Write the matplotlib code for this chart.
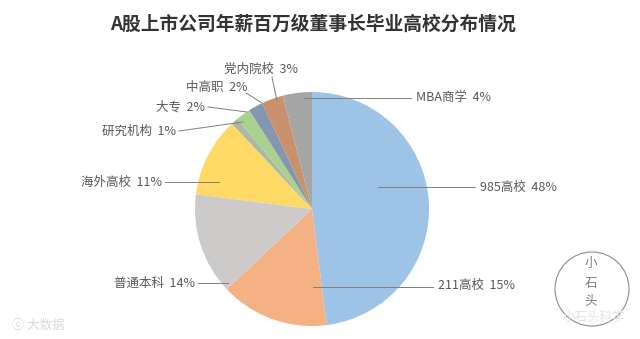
import matplotlib.pyplot as plt
from matplotlib.patches import Circle

plt.rcParams['font.family'] = ['Noto Sans CJK SC', 'DejaVu Sans']

# 学校类别与占比（%），顺时针从12点方向开始
categories = ["985高校", "211高校", "普通本科", "海外高校", "研究机构",
              "大专", "中高职", "党内院校", "MBA商学"]
shares = [48, 15, 14, 11, 1, 2, 2, 3, 4]
colors = ["#9dc3e6", "#f4b183", "#cdcaca", "#ffd966", "#a9b8a8",
          "#a9d18e", "#8497b0", "#c9916c", "#a5a5a5"]

# 标签文字位置与引线端点（像素坐标，y 向下）
label_pos = [(480, 187), (438, 285), (195, 283), (162, 182), (176, 131),
             (205, 107), (248, 88), (298, 69), (416, 98)]
line_end = [(378, 187), (313, 287), (228, 283), (219, 182), (243, 122),
            (247, 112), (262, 103), (277, 101), (304, 98)]
align = ["left", "left", "right", "right", "right", "right", "right", "right", "left"]

W, H = 640, 339
fig = plt.figure(figsize=(W / 100, H / 100), dpi=100)
ax = fig.add_axes([0, 0, 1, 1])

ax.pie(shares, colors=colors, startangle=90, counterclock=False,
       center=(312, H - 209), radius=117, frame=True,
       wedgeprops=dict(linewidth=0))
ax.set_xlim(0, W)
ax.set_ylim(0, H)
ax.set_aspect("equal")
ax.axis("off")

for name, val, (tx, ty), (ex, ey), ha in zip(categories, shares, label_pos, line_end, align):
    ax.text(tx, H - ty, f"{name}  {val}%", ha=ha, va="center",
            fontsize=9, color="#595959")
    sx = tx - 5 if ha == "left" else tx + 3
    if name == "中高职":
        sx, sy = tx - 2, ty + 5
    elif name == "党内院校":
        sx, sy = tx - 26, ty + 8
    elif name in ("研究机构", "大专"):
        sy = ty
    else:
        sy = ey
    ax.plot([sx, ex], [H - sy, H - ey], color="#7f7f7f", linewidth=0.7)

ax.text(W / 2 - 7, H - 24, "A股上市公司年薪百万级董事长毕业高校分布情况",
        ha="center", va="center", fontsize=13.5, fontweight="bold", color="#333333")

# 水印
ax.text(12, H - 325, "ⓒ 大数据", ha="left", va="center", fontsize=9,
        color="#d9d9d9")
ax.add_patch(Circle((592, H - 289), 37, fill=False, edgecolor="#8c8c8c", linewidth=0.8))
for ch, cy in zip(["小", "石", "头"], [263, 283, 301]):
    ax.text(591, H - cy, ch, ha="center", va="center", fontsize=9, color="#7f7f7f")
ax.text(594, H - 317, "小石头科学", ha="center", va="center", fontsize=9,
        color="#e3e3e3")

fig.savefig("out.png", dpi=100, facecolor="white")
